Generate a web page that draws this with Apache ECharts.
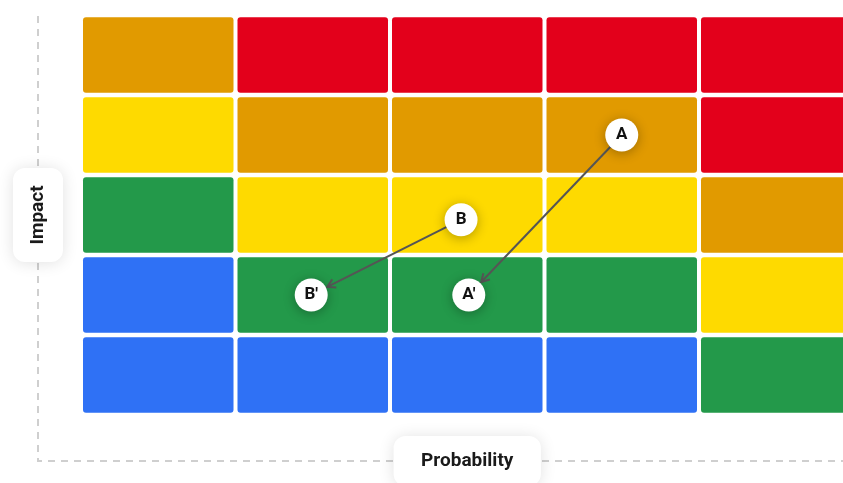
<!DOCTYPE html>
<html>
<head>
<meta charset="utf-8">
<script src="https://cdn.jsdelivr.net/npm/echarts@6/dist/echarts.min.js"></script>
<style>
html,body{margin:0;padding:0;background:#fff;}
#chart{width:843px;height:483px;}
</style>
</head>
<body>
<div id="chart"></div>
<script>
// Axes
const probabilityLevels = [1, 2, 3, 4, 5];
const impactLevels = [1, 2, 3, 4, 5];
const axisTitles = { x: 'Probability', y: 'Impact' };

// Risk level per cell, rows = impact 1..5 (bottom to top), columns = probability 1..5
const riskMatrix = [
  [0, 0, 0, 0, 1],
  [0, 1, 1, 1, 2],
  [1, 2, 2, 2, 3],
  [2, 3, 3, 3, 4],
  [3, 4, 4, 4, 4]
];
const levelColors = ['#2F71F5', '#23994A', '#FEDA00', '#E19A00', '#E3001B'];

// Risk points (probability, impact)
const pointNames = ['A', 'B', 'A\u2032', 'B\u2032'];
const pointProbability = [4.0, 2.96, 3.01, 1.99];
const pointImpact = [4.0, 2.94, 2.0, 2.0];

// Moves: from point index -> to point index
const moves = [[0, 2], [1, 3]];

const cellData = [];
impactLevels.forEach((imp, r) => {
  probabilityLevels.forEach((p, c) => {
    cellData.push([p, imp, riskMatrix[r][c]]);
  });
});

const pointData = pointNames.map((n, i) => ({ name: n, value: [pointProbability[i], pointImpact[i]] }));
const moveData = moves.map(m => [pointProbability[m[0]], pointImpact[m[0]], pointProbability[m[1]], pointImpact[m[1]]]);

const chart = echarts.init(document.getElementById('chart'));
const R = 16;
const option = {
  animation: false,
  textStyle: { fontFamily: 'Roboto' },
  grid: { left: 81, width: 772.5, top: 15, height: 400, outerBoundsMode: 'none', containLabel: false },
  xAxis: {
    type: 'value', min: 0.5, max: 5.5,
    offset: 46,
    axisLine: { show: false }, axisTick: { show: false }, axisLabel: { show: false }, splitLine: { show: false },
    name: axisTitles.x, nameLocation: 'middle', nameGap: 0,
    nameTextStyle: {
      fontFamily: 'Roboto', fontSize: 19, fontWeight: 'bold', color: '#1a1a1a',
      align: 'center', verticalAlign: 'middle',
      backgroundColor: '#fff', borderRadius: 12, padding: [15.5, 27.5],
      shadowBlur: 16, shadowColor: 'rgba(0,0,0,0.12)', shadowOffsetY: 1
    },
    z: 5
  },
  yAxis: {
    type: 'value', min: 0.5, max: 5.5,
    offset: 43,
    axisLine: { show: false }, axisTick: { show: false }, axisLabel: { show: false }, splitLine: { show: false },
    name: axisTitles.y, nameLocation: 'middle', nameGap: 0, nameRotate: 90,
    nameTextStyle: {
      fontFamily: 'Roboto', fontSize: 19, fontWeight: 'bold', color: '#1a1a1a',
      align: 'center', verticalAlign: 'middle',
      backgroundColor: '#fff', borderRadius: 12, padding: [15.5, 17.5],
      shadowBlur: 16, shadowColor: 'rgba(0,0,0,0.12)', shadowOffsetY: 1
    },
    z: 5
  },
  graphic: [{
    type: 'polyline', z: -1, silent: true,
    shape: { points: [[38, 16], [38, 461], [843, 461]] },
    style: { stroke: '#cfcfcf', lineWidth: 2, lineDash: [7, 6], fill: null }
  }],
  series: [
    {
      type: 'custom', z: 1,
      data: cellData,
      encode: { x: 0, y: 1 },
      renderItem: function (params, api) {
        const c = api.coord([api.value(0), api.value(1)]);
        const s = api.size([1, 1]);
        const gx = 4, gy = 4.5;
        return {
          type: 'rect',
          shape: { x: c[0] - s[0] / 2 + gx / 2, y: c[1] - s[1] / 2 + gy / 2, width: s[0] - gx, height: s[1] - gy, r: 3 },
          style: { fill: levelColors[api.value(2)] }
        };
      }
    },
    {
      type: 'custom', z: 2,
      data: moveData,
      encode: { x: [0, 2], y: [1, 3] },
      renderItem: function (params, api) {
        const p1 = api.coord([api.value(0), api.value(1)]);
        const p2 = api.coord([api.value(2), api.value(3)]);
        const dx = p2[0] - p1[0], dy = p2[1] - p1[1];
        const len = Math.sqrt(dx * dx + dy * dy);
        const ux = dx / len, uy = dy / len;
        const s = [p1[0] + ux * R, p1[1] + uy * R];
        const e = [p2[0] - ux * (R + 2), p2[1] - uy * (R + 2)];
        const ah = 9, ang = Math.PI / 6;
        const base = Math.atan2(-uy, -ux);
        const a1 = [e[0] + ah * Math.cos(base + ang), e[1] + ah * Math.sin(base + ang)];
        const a2 = [e[0] + ah * Math.cos(base - ang), e[1] + ah * Math.sin(base - ang)];
        return {
          type: 'group',
          children: [
            { type: 'line', shape: { x1: s[0], y1: s[1], x2: e[0], y2: e[1] }, style: { stroke: '#555', lineWidth: 2 } },
            { type: 'polyline', shape: { points: [a1, e, a2] }, style: { stroke: '#555', lineWidth: 2, fill: null } }
          ]
        };
      }
    },
    {
      type: 'scatter', z: 3,
      data: pointData,
      symbol: 'circle',
      symbolSize: 33,
      itemStyle: { color: '#fff', opacity: 1, shadowBlur: 12, shadowColor: 'rgba(0,0,0,0.3)', shadowOffsetY: 2 },
      label: {
        show: true, position: 'inside', formatter: '{b}',
        fontFamily: 'Roboto', fontSize: 17, fontWeight: 'bold', color: '#111'
      }
    }
  ]
};
chart.setOption(option);
</script>
</body>
</html>
